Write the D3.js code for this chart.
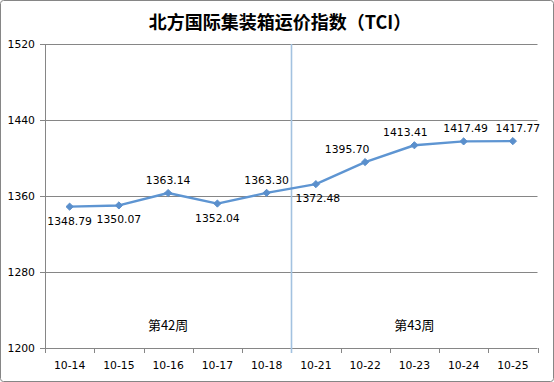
<!DOCTYPE html>
<html><head><meta charset="utf-8">
<script src="https://cdn.jsdelivr.net/npm/d3@7"></script>
<style>body{margin:0;background:#fff}svg{display:block}</style>
</head><body>
<script>
const title = "北方国际集装箱运价指数（TCI）";
const categories = ["10-14","10-15","10-16","10-17","10-18","10-21","10-22","10-23","10-24","10-25"];
const values = [1348.79,1350.07,1363.14,1352.04,1363.30,1372.48,1395.70,1413.41,1417.49,1417.77];
const labelSide = ["below","below","above","below","above","below","above","above","above","above"];
const yTicks = [1200,1280,1360,1440,1520];
const weekLabels = ["第42周","第43周"];
const weekSplit = ["10-18","10-21"];

const W=554,H=382;
const svg=d3.select("body").append("svg").attr("width",W).attr("height",H);
svg.append("rect").attr("x",0.5).attr("y",0.5).attr("width",W-1).attr("height",H-1).attr("rx",3)
  .attr("fill","#fff").attr("stroke","#868686");
const L=45,R=537.5,T=44,B=348;
const x=d3.scaleBand().domain(categories).range([L,R]);
const y=d3.scaleLinear().domain([1200,1520]).range([B,T]);
const font="'DejaVu Sans',Verdana,sans-serif";
const fs=10.8;

svg.append("text").attr("x",280).attr("y",29).attr("text-anchor","middle")
  .attr("font-family","'Noto Sans CJK SC',sans-serif").attr("font-weight","bold").attr("font-size",18)
  .attr("fill","#000").text(title);

// grid
svg.append("g").selectAll("line").data(yTicks).join("line")
  .attr("x1",L-5).attr("x2",R).attr("y1",d=>Math.round(y(d))+0.5).attr("y2",d=>Math.round(y(d))+0.5)
  .attr("stroke","#868686").attr("stroke-width",1);
svg.append("g").selectAll("text").data(yTicks).join("text")
  .attr("x",35).attr("y",d=>y(d)+4).attr("text-anchor","end")
  .attr("font-family",font).attr("font-size",fs).attr("fill","#000").text(d=>d);
svg.append("line").attr("x1",L+0.5).attr("x2",L+0.5).attr("y1",T).attr("y2",B).attr("stroke","#868686");
const edges=categories.map(c=>x(c)).concat([R]);
svg.append("g").selectAll("line").data(edges).join("line")
  .attr("x1",d=>Math.round(d)+0.5).attr("x2",d=>Math.round(d)+0.5).attr("y1",B).attr("y2",B+5)
  .attr("stroke","#868686");
svg.append("g").selectAll("text").data(categories).join("text")
  .attr("x",d=>x(d)+x.bandwidth()/2).attr("y",369).attr("text-anchor","middle")
  .attr("font-family",font).attr("font-size",fs).attr("fill","#000").text(d=>d);

// week divider
const splitX=Math.round(x(weekSplit[1]))+0.5;
svg.append("line").attr("x1",splitX).attr("x2",splitX).attr("y1",T).attr("y2",B+5)
  .attr("stroke","#a3c2e0").attr("stroke-width",1.6);
const wk=[[categories[0],weekSplit[0]],[weekSplit[1],categories[categories.length-1]]];
svg.append("g").selectAll("text").data(weekLabels).join("text")
  .attr("x",(d,i)=>(x(wk[i][0])+x(wk[i][1])+x.bandwidth())/2).attr("y",330).attr("text-anchor","middle")
  .attr("font-family","'Noto Sans CJK SC',sans-serif").attr("font-size",13).attr("fill","#000").text(d=>d);

// line
const cx=d=>x(d)+x.bandwidth()/2;
const line=d3.line().x((d,i)=>cx(categories[i])).y(d=>y(d));
svg.append("path").datum(values).attr("d",line).attr("fill","none")
  .attr("stroke","#5e95d2").attr("stroke-width",2.4).attr("stroke-linejoin","round");
svg.append("g").selectAll("path").data(values).join("path")
  .attr("transform",(d,i)=>`translate(${cx(categories[i])},${y(d)})`)
  .attr("d","M0,-3.6L3.6,0L0,3.6L-3.6,0Z").attr("fill","#5a8fcc").attr("stroke","#5a8fcc");
// label nudges to mimic the reference's overlap avoidance (styling, not data)
const nudge={"10-21":2,"10-22":-18,"10-23":-9,"10-24":2,"10-25":5};
svg.append("g").selectAll("text").data(values).join("text")
  .attr("x",(d,i)=>cx(categories[i])+(nudge[categories[i]]||0))
  .attr("y",(d,i)=>labelSide[i]==="above"? y(d)-9 : y(d)+18)
  .attr("text-anchor","middle").attr("font-family",font).attr("font-size",fs).attr("fill","#000")
  .text(d=>d.toFixed(2));
</script>
</body></html>
